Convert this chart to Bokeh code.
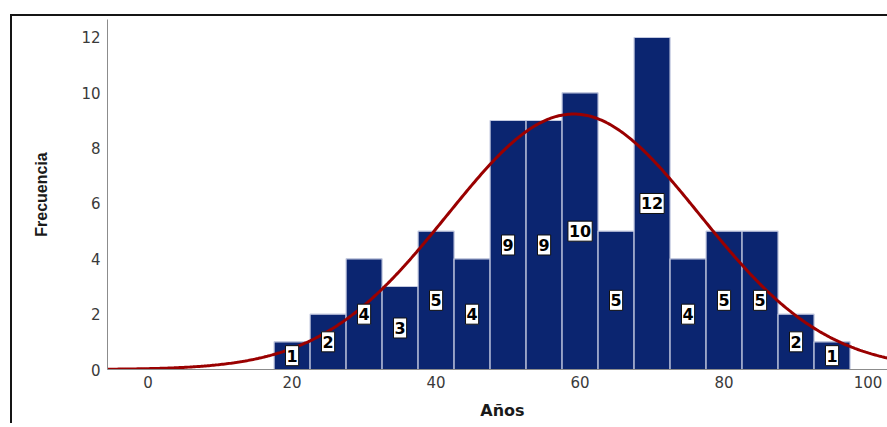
import numpy as np
from bokeh.plotting import figure
from bokeh.models import ColumnDataSource, Range1d, FixedTicker
from bokeh.core.properties import value
from bokeh.embed import file_html
from bokeh.resources import INLINE

# ---- data ----
bin_centers = [20, 25, 30, 35, 40, 45, 50, 55, 60, 65, 70, 75, 80, 85, 90, 95]
counts = [1, 2, 4, 3, 5, 4, 9, 9, 10, 5, 12, 4, 5, 5, 2, 1]
bin_width = 5
fit_mean = 59.1
fit_sd = 17.5
x_ticks = [0, 20, 40, 60, 80, 100]
y_ticks = [0, 2, 4, 6, 8, 10, 12]
x_title = "Años"
y_title = "Frecuencia"

n_total = sum(counts)
x_lo, x_hi = -5.64, 104.09

p = figure(width=885, height=409, output_backend="svg", toolbar_location=None,
           x_range=Range1d(x_lo, x_hi), y_range=Range1d(0, 12.65),
           min_border_left=95, min_border_right=0, min_border_top=3,
           min_border_bottom=56)
p.styles = {"border-top": "2px solid #151515", "border-left": "2px solid #151515",
            "margin-top": "14px", "margin-left": "10px"}
p.outline_line_color = None
p.xgrid.grid_line_color = None
p.ygrid.grid_line_color = None
p.background_fill_color = "white"
p.border_fill_color = "white"

bars = ColumnDataSource(dict(x=bin_centers, top=counts,
                             mid=[c / 2 for c in counts],
                             lab=[str(c) for c in counts]))
p.vbar(x="x", top="top", width=bin_width, source=bars,
       fill_color="#0b2570", line_color="#c3c9e0", line_width=1.2)

xs = np.linspace(x_lo, x_hi, 500)
ys = n_total * bin_width / (fit_sd * np.sqrt(2 * np.pi)) * np.exp(-0.5 * ((xs - fit_mean) / fit_sd) ** 2)
p.line(xs, ys, line_color="#9a0000", line_width=3)

p.text(x="x", y="mid", text="lab", source=bars,
       text_align="center", text_baseline="middle",
       text_font=value("DejaVu Sans"), text_font_style="bold",
       text_font_size="16px", text_color="black",
       background_fill_color="white", border_line_color="#111111",
       border_line_width=1, padding=(1, 4))

for ax in (p.xaxis[0], p.yaxis[0]):
    ax.axis_line_color = "#8c8c8c"
    ax.axis_line_width = 1
    ax.major_tick_line_color = None
    ax.minor_tick_line_color = None
    ax.major_label_text_font = "DejaVu Sans"
    ax.major_label_text_font_size = "15px"
    ax.major_label_text_color = "#3a3a3a"
    ax.axis_label_text_font_style = "bold"
    ax.axis_label_text_color = "#1a1a1a"

p.xaxis.ticker = FixedTicker(ticks=x_ticks)
p.yaxis.ticker = FixedTicker(ticks=y_ticks)
p.xaxis.axis_label = x_title
p.yaxis.axis_label = y_title
p.xaxis.major_label_standoff = 0
p.yaxis.major_label_standoff = 1
p.xaxis.axis_label_standoff = 10
p.yaxis.axis_label_standoff = 28
p.xaxis.axis_label_text_font = "DejaVu Sans"
p.xaxis.axis_label_text_font_size = "16px"
p.yaxis.axis_label_text_font = "Liberation Sans"
p.yaxis.axis_label_text_font_size = "16px"

open("out.html", "w").write(file_html(p, INLINE))
